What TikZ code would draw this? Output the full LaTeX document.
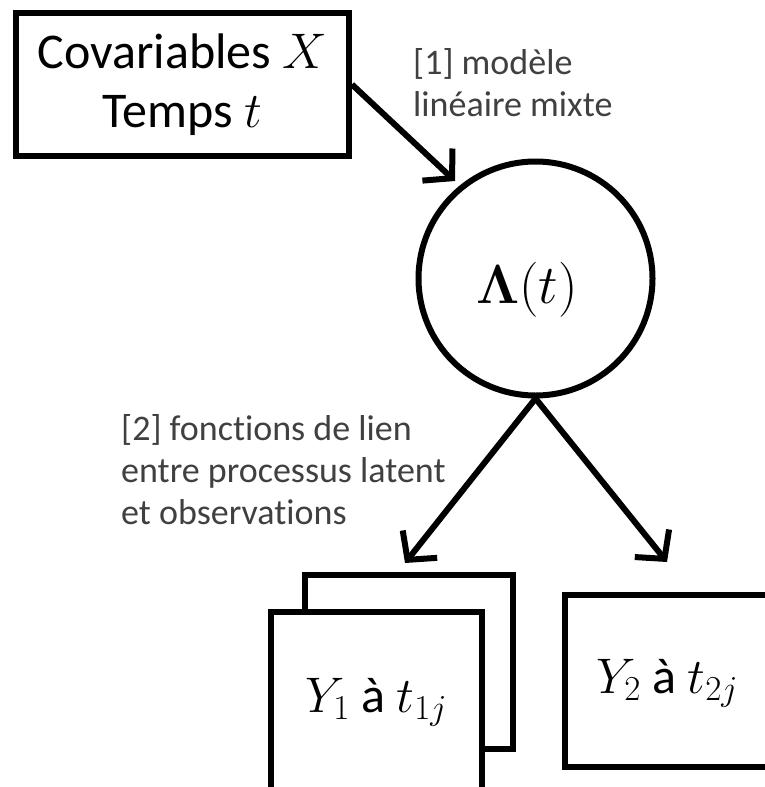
\RequirePackage{fix-cm}
\documentclass[tikz,border=0pt]{standalone}
\usepackage{bm}
\usepackage{fontspec}
\setmainfont{Carlito}[Ligatures=NoCommon]
\usetikzlibrary{arrows.meta}
\begin{document}
\begin{tikzpicture}[x=1pt,y=-1pt,
  box/.style={draw, line width=6pt, inner sep=0pt},
  arr/.style={line width=6pt, -{Straight Barb[length=20pt,width=44pt]}},
  lbl/.style={text=black!75, font=\fontsize{36}{42}\selectfont, align=left, inner sep=0pt},
  maintext/.style={font=\fontsize{50}{59}\selectfont, align=center, inner sep=0pt}]
\useasboundingbox (0,0) rectangle (764,787);
% top box
\node[box, maintext, minimum width=333pt, minimum height=143pt] (top) at (182.5,84.5) {Covariables $X$\\Temps $t$};
% latent process
\node[box, circle, minimum size=234pt] (circ) at (535.5,278.5) {};
\node[maintext, font=\fontsize{55}{60}\selectfont, anchor=base] (lam) at (527,303) {$\bm{\Lambda}(t)$};
% outcome boxes
\node[box, minimum width=208pt, minimum height=174pt] (back) at (409,662) {};
\node[box, fill=white, minimum width=211pt, minimum height=183pt] (front) at (376.5,703.5) {};
\node[maintext, anchor=base] (y1) at (376,712) {$Y_1$ à $t_{1j}$};
\node[box, minimum width=205pt, minimum height=172pt] (y2box) at (667.5,681) {};
\node[maintext, anchor=base] (y2) at (667,693) {$Y_2$ à $t_{2j}$};
% labels
\node[lbl, anchor=north west] (l1) at (413,48) {[1] modèle\\linéaire mixte};
\node[lbl, anchor=north west] (l2) at (121,414) {[2] fonctions de lien\\entre processus latent\\et observations};
% arrows
\coordinate (tip0) at (455,181);
\coordinate (tip1) at (405,563);
\coordinate (tip2) at (667,562);
\draw[arr] (top.east) -- (tip0);
\draw[arr] (circ.south) -- (tip1);
\draw[arr] (circ.south) -- (tip2);
\end{tikzpicture}
\end{document}
